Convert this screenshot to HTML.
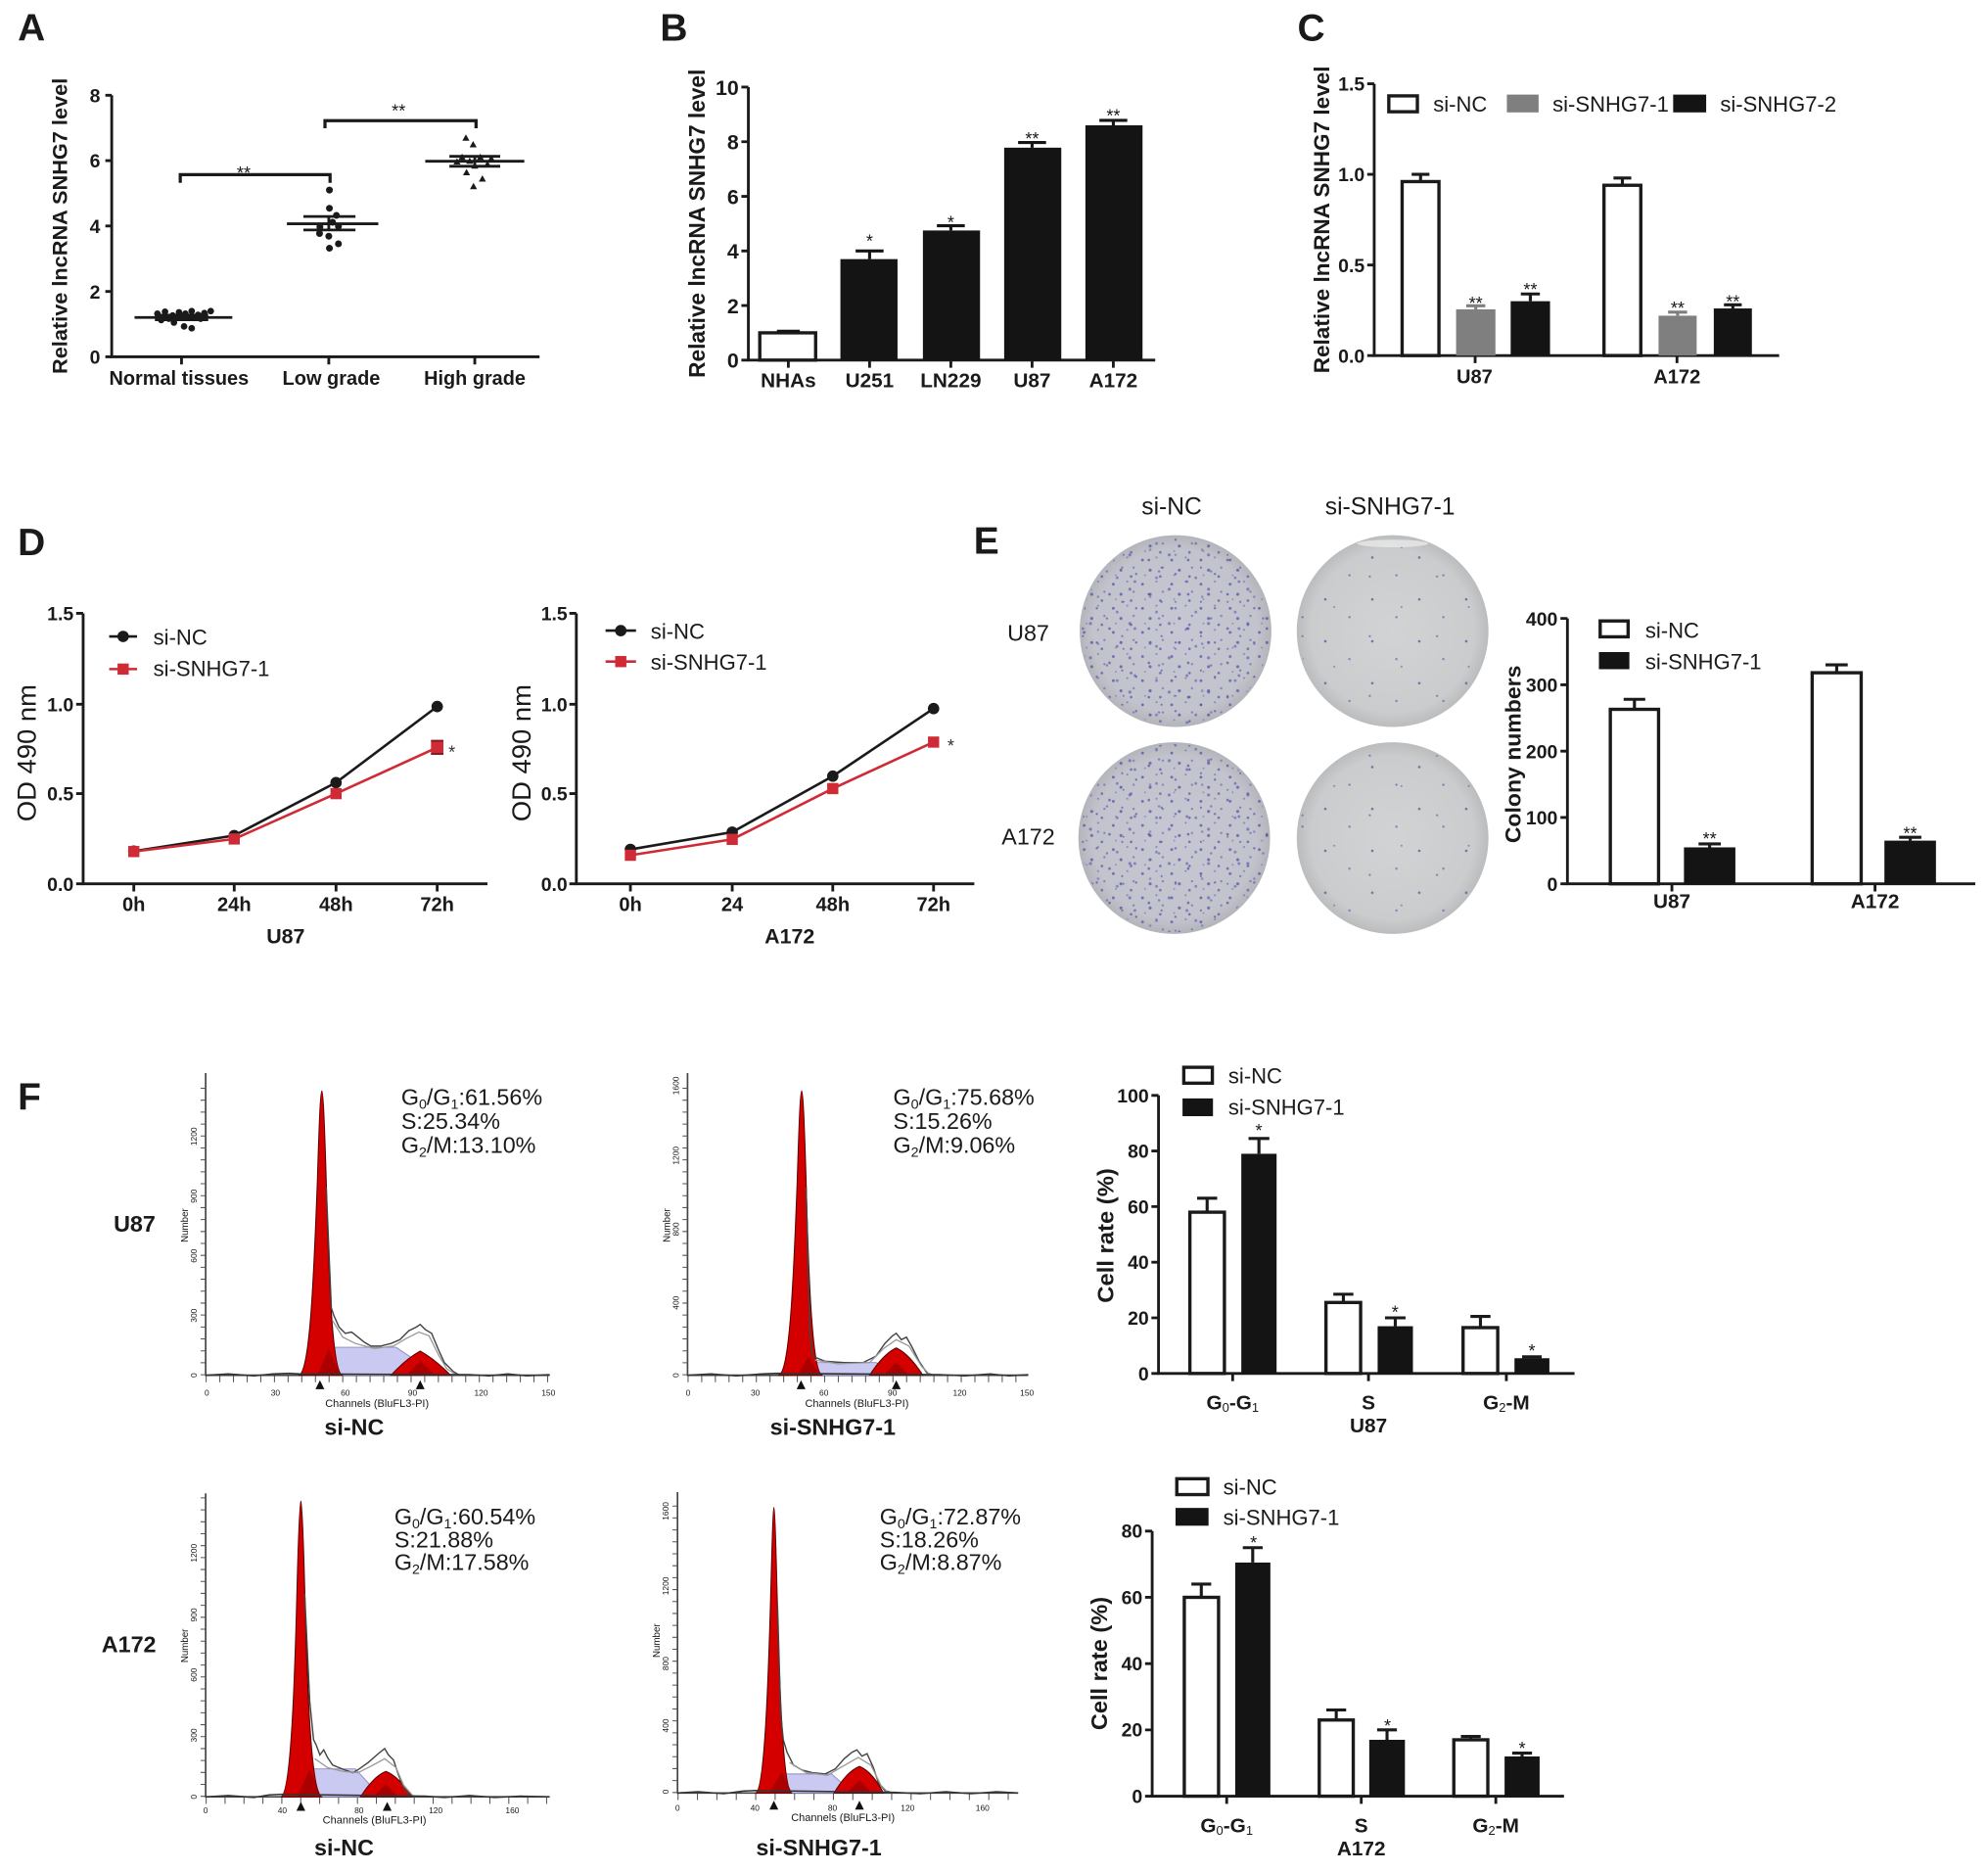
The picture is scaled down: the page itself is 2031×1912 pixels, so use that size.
<!DOCTYPE html>
<html><head><meta charset="utf-8">
<style>
html,body{margin:0;padding:0;background:#fff;}
svg{display:block;}
text{font-family:"Liberation Sans",Arial,sans-serif;fill:#1a1a1a;}
.b{font-weight:bold;}
.lg{fill:#333;}
.sm{fill:#888;font-size:6.5px;}
</style></head><body>
<svg width="2031" height="1912" viewBox="0 0 1566 1474.2" preserveAspectRatio="none" xmlns="http://www.w3.org/2000/svg">
<defs>
<pattern id="dA" width="23" height="19" patternUnits="userSpaceOnUse">
<circle cx="3" cy="4" r="1.1" fill="#4f4fa6" opacity=".75"/><circle cx="14" cy="2" r=".8" fill="#5a5aa8" opacity=".6"/><circle cx="9" cy="12" r="1.2" fill="#4a4aa0" opacity=".7"/><circle cx="19" cy="10" r=".9" fill="#5555aa" opacity=".6"/><circle cx="17" cy="17" r="1" fill="#50509f" opacity=".7"/><circle cx="5" cy="16" r=".7" fill="#6060b0" opacity=".6"/>
</pattern>
<pattern id="dB" width="31" height="27" patternUnits="userSpaceOnUse">
<circle cx="6" cy="9" r="1" fill="#4a4aa0" opacity=".7"/><circle cx="22" cy="5" r="1.2" fill="#5050a8" opacity=".6"/><circle cx="27" cy="20" r=".9" fill="#4a4aa0" opacity=".7"/><circle cx="12" cy="23" r="1.1" fill="#5a5ab0" opacity=".6"/><circle cx="16" cy="15" r=".8" fill="#4a4a9a" opacity=".7"/>
</pattern>
<pattern id="dD" width="41" height="37" patternUnits="userSpaceOnUse">
<circle cx="11" cy="6" r=".9" fill="#4a4aa0" opacity=".6"/><circle cx="33" cy="14" r="1.1" fill="#5050a8" opacity=".6"/><circle cx="24" cy="30" r=".8" fill="#4a4aa0" opacity=".6"/><circle cx="4" cy="26" r="1" fill="#5a5ab0" opacity=".5"/>
</pattern>
<pattern id="dC" width="37" height="33" patternUnits="userSpaceOnUse">
<circle cx="8" cy="10" r="1" fill="#5050a0" opacity=".75"/><circle cx="27" cy="24" r=".9" fill="#5a5aa8" opacity=".7"/>
</pattern>
<pattern id="dE" width="53" height="47" patternUnits="userSpaceOnUse">
<circle cx="19" cy="31" r=".9" fill="#5050a0" opacity=".6"/><circle cx="44" cy="8" r=".8" fill="#5a5aa8" opacity=".6"/>
</pattern>
<radialGradient id="gN" cx="50%" cy="50%" r="50%"><stop offset="0" stop-color="#c6c7d3"/><stop offset=".85" stop-color="#c2c3cc"/><stop offset="1" stop-color="#b4b5bb"/></radialGradient>
<radialGradient id="gS" cx="50%" cy="50%" r="50%"><stop offset="0" stop-color="#d2d3d4"/><stop offset=".85" stop-color="#cbcccd"/><stop offset="1" stop-color="#bbbcbe"/></radialGradient>
</defs>

<!-- ================= PANEL A ================= -->
<text x="14" y="32" class="b" font-size="30">A</text>
<g stroke="#1a1a1a" stroke-width="2.2" fill="none">
<path d="M88,75 V281 H425"/>
<path d="M83,75H88 M83,126.5H88 M83,178H88 M83,229.5H88 M83,281H88"/>
<path d="M143,281v6 M259,281v6 M374,281v6"/>
</g>
<g class="b" font-size="15" text-anchor="end">
<text x="79" y="80.5">8</text><text x="79" y="132">6</text><text x="79" y="183.5">4</text><text x="79" y="235">2</text><text x="79" y="286.5">0</text>
</g>
<g class="b" font-size="15.5" text-anchor="middle">
<text x="141" y="303" textLength="110" lengthAdjust="spacingAndGlyphs">Normal tissues</text>
<text x="261" y="303" textLength="77" lengthAdjust="spacingAndGlyphs">Low grade</text>
<text x="374" y="303" textLength="80" lengthAdjust="spacingAndGlyphs">High grade</text>
</g>
<text transform="translate(53,178) rotate(-90)" class="b" font-size="16.5" text-anchor="middle" textLength="233" lengthAdjust="spacingAndGlyphs">Relative lncRNA SNHG7 level</text>
<g fill="#1a1a1a">
<circle cx="124" cy="247" r="2.6"/><circle cx="130" cy="245.5" r="2.6"/><circle cx="136" cy="248.5" r="2.6"/><circle cx="141" cy="246" r="2.6"/><circle cx="146" cy="247" r="2.6"/><circle cx="151" cy="245" r="2.6"/><circle cx="156" cy="248" r="2.6"/><circle cx="161" cy="246.5" r="2.6"/><circle cx="166" cy="245" r="2.6"/><circle cx="133" cy="251" r="2.6"/><circle cx="148" cy="250" r="2.6"/><circle cx="158" cy="251" r="2.6"/><circle cx="137" cy="254" r="2.6"/><circle cx="145" cy="257" r="2.6"/><circle cx="151" cy="258.5" r="2.6"/><circle cx="127" cy="252" r="2.6"/>
<circle cx="259.5" cy="149.7" r="2.7"/><circle cx="259.5" cy="164" r="2.7"/><circle cx="265" cy="169.6" r="2.7"/><circle cx="252" cy="178.7" r="2.7"/><circle cx="266.6" cy="178.2" r="2.7"/><circle cx="259" cy="186" r="2.7"/><circle cx="266.6" cy="192" r="2.7"/><circle cx="259.5" cy="195.5" r="2.7"/><circle cx="251.7" cy="183.9" r="2.7"/><circle cx="262" cy="175" r="2.7"/>
<path d="M367,105.8l2.8,5h-5.6z M372.7,111l2.8,5h-5.6z M374,127.8l2.8,5h-5.6z M367.5,133l2.8,5h-5.6z M380,138l2.8,5h-5.6z M373,144l2.8,5h-5.6z M364,121l2.8,5h-5.6z M378.4,121l2.8,5h-5.6z M384,126.5l2.8,5h-5.6z M370,124l2.8,5h-5.6z M360,124.5l2.8,5h-5.6z M387,122l2.8,5h-5.6z"/>
</g>
<g stroke="#1a1a1a" stroke-width="2.2" fill="none">
<path d="M106,250H183 M122,248.2H164 M122,251.8H164"/>
<path d="M226,176.2H298 M239,170.5H280 M239,181.1H280 M259,170.5V181.1"/>
<path d="M335,127H413 M354,123.1H394 M354,130.9H394 M374,123.1V130.9"/>
<path d="M142,144V137.5H260V144" stroke-width="2.5"/>
<path d="M256,101V95H375V101" stroke-width="2.5"/>
</g>
<g font-size="14" text-anchor="middle" class="lg"><text x="192" y="141">**</text><text x="314" y="92">**</text></g>

<!-- ================= PANEL B ================= -->
<text x="520" y="32" class="b" font-size="30">B</text>
<g stroke="#1a1a1a" stroke-width="2.2" fill="none">
<path d="M589.5,68.6V283.6H910"/>
<path d="M584,68.6h5.5 M584,111.6h5.5 M584,154.6h5.5 M584,197.6h5.5 M584,240.6h5.5 M584,283.6h5.5"/>
<path d="M621,283.6v6 M685,283.6v6 M749,283.6v6 M813,283.6v6 M877,283.6v6"/>
</g>
<g class="b" font-size="16.5" text-anchor="end">
<text x="582" y="74.6">10</text><text x="582" y="117.6">8</text><text x="582" y="160.6">6</text><text x="582" y="203.6">4</text><text x="582" y="246.6">2</text><text x="582" y="289.6">0</text>
</g>
<rect x="598.5" y="262.1" width="44" height="21.5" fill="#fff" stroke="#1a1a1a" stroke-width="2.6"/>
<g fill="#141414">
<rect x="662" y="204.05" width="45" height="79.55"/>
<rect x="727" y="181.5" width="45" height="102.1"/>
<rect x="791" y="116.3" width="45" height="167.3"/>
<rect x="855" y="98.7" width="45" height="184.9"/>
</g>
<g stroke="#141414" stroke-width="2.4" fill="none">
<path d="M612,260.8H630"/>
<path d="M685,204V197.6 M674,197.6H696"/>
<path d="M749,181.5V177.8 M738,177.8H760"/>
<path d="M813,116.3V112.2 M802,112.2H824"/>
<path d="M877,98.7V94.8 M866,94.8H888"/>
</g>
<g font-size="14" text-anchor="middle" class="lg">
<text x="685" y="194.5">*</text><text x="749" y="180">*</text><text x="813" y="114">**</text><text x="877" y="96">**</text>
</g>
<g class="b" font-size="16" text-anchor="middle">
<text x="621" y="305">NHAs</text><text x="685" y="305">U251</text><text x="749" y="305">LN229</text><text x="813" y="305">U87</text><text x="877" y="305">A172</text>
</g>
<text transform="translate(555,176) rotate(-90)" class="b" font-size="17.5" text-anchor="middle" textLength="243" lengthAdjust="spacingAndGlyphs">Relative lncRNA SNHG7 level</text>

<!-- ================= PANEL C ================= -->
<text x="1022" y="32" class="b" font-size="30">C</text>
<g stroke="#1a1a1a" stroke-width="2.2" fill="none">
<path d="M1082.5,66V280H1401.5"/>
<path d="M1077,66h5.5 M1077,137.3h5.5 M1077,208.7h5.5 M1077,280h5.5"/>
<path d="M1162,280v6 M1321,280v6"/>
</g>
<g class="b" font-size="15" text-anchor="end">
<text x="1075" y="71.5">1.5</text><text x="1075" y="142.8">1.0</text><text x="1075" y="214.2">0.5</text><text x="1075" y="285.5">0.0</text>
</g>
<rect x="1104.5" y="143" width="29" height="137" fill="#fff" stroke="#1a1a1a" stroke-width="2.6"/>
<rect x="1263.5" y="145.9" width="29" height="134.1" fill="#fff" stroke="#1a1a1a" stroke-width="2.6"/>
<rect x="1147" y="243.6" width="31" height="36.4" fill="#7f7f7f"/>
<rect x="1306.5" y="248.6" width="30" height="31.4" fill="#7f7f7f"/>
<rect x="1190" y="237.2" width="31" height="42.8" fill="#141414"/>
<rect x="1350" y="242.9" width="30" height="37.1" fill="#141414"/>
<g stroke="#1a1a1a" stroke-width="2.4" fill="none">
<path d="M1119,143V137.3 M1112,137.3H1126"/>
<path d="M1278,145.9V140.2 M1271,140.2H1285"/>
<path d="M1205.5,237.2V231.5 M1198,231.5H1213"/>
<path d="M1365,242.9V240 M1358,240H1372"/>
</g>
<g stroke="#7f7f7f" stroke-width="2.4" fill="none">
<path d="M1162.5,243.6V240.8 M1155,240.8H1170"/>
<path d="M1321.5,248.6V245.8 M1314,245.8H1329"/>
</g>
<g font-size="14" text-anchor="middle" class="lg">
<text x="1162.5" y="243.7">**</text><text x="1205.5" y="232.8">**</text><text x="1321.5" y="247.6">**</text><text x="1365" y="242.4">**</text>
</g>
<g class="b" font-size="15.5" text-anchor="middle"><text x="1161.5" y="302">U87</text><text x="1321" y="302">A172</text></g>
<text transform="translate(1047,173) rotate(-90)" class="b" font-size="17" text-anchor="middle" textLength="242" lengthAdjust="spacingAndGlyphs">Relative lncRNA SNHG7 level</text>
<rect x="1094" y="75.5" width="22.5" height="12.5" fill="#fff" stroke="#1a1a1a" stroke-width="2.6"/>
<rect x="1187" y="74.5" width="25" height="14" fill="#7f7f7f"/>
<rect x="1318" y="74.5" width="26" height="14" fill="#141414"/>
<g font-size="17" class="lg"><text x="1129" y="88">si-NC</text><text x="1223" y="88">si-SNHG7-1</text><text x="1355" y="88">si-SNHG7-2</text></g>

<!-- ================= PANEL D ================= -->
<text x="14" y="437" class="b" font-size="30">D</text>
<g stroke="#1a1a1a" stroke-width="2.2" fill="none">
<path d="M65.5,483V696H384"/>
<path d="M60,483h5.5 M60,554.6h5.5 M60,625h5.5 M60,696h5.5"/>
<path d="M105.4,696v6 M184.5,696v6 M264.7,696v6 M344.4,696v6"/>
</g>
<g class="b" font-size="15" text-anchor="end">
<text x="58" y="488.5">1.5</text><text x="58" y="560">1.0</text><text x="58" y="630.5">0.5</text><text x="58" y="701.5">0.0</text>
</g>
<g class="b" font-size="15.5" text-anchor="middle">
<text x="105.4" y="717.6">0h</text><text x="184.5" y="717.6">24h</text><text x="264.7" y="717.6">48h</text><text x="344.4" y="717.6">72h</text>
<text x="225" y="743" font-size="16.5">U87</text>
</g>
<text transform="translate(28,593) rotate(-90)" font-size="21" text-anchor="middle" textLength="108" lengthAdjust="spacingAndGlyphs" fill="#222">OD 490 nm</text>
<polyline points="105.4,670.3 184.5,658 264.7,616.3 344.4,556.4" fill="none" stroke="#1a1a1a" stroke-width="2"/>
<g fill="#1a1a1a"><circle cx="105.4" cy="670.3" r="4.5"/><circle cx="184.5" cy="658" r="4.5"/><circle cx="264.7" cy="616.3" r="4.5"/><circle cx="344.4" cy="556.4" r="4.5"/></g>
<polyline points="105.4,670.6 184.5,660.7 264.7,625 344.4,588.6" fill="none" stroke="#d02a36" stroke-width="2"/>
<g fill="#d02a36"><rect x="101" y="666.2" width="8.8" height="8.8"/><rect x="180.1" y="656.3" width="8.8" height="8.8"/><rect x="260.3" y="620.6" width="8.8" height="8.8"/><rect x="339.5" y="583.4" width="9.8" height="10.3"/></g>
<path d="M339.5,583.4h9.8 M339.5,593.7h9.8" stroke="#8a1a22" stroke-width="1.5"/>
<text x="356" y="597" font-size="14" text-anchor="middle" class="lg">*</text>
<path d="M86,501.2H108" stroke="#1a1a1a" stroke-width="2"/><circle cx="97" cy="501.2" r="4.5" fill="#1a1a1a"/>
<path d="M86,526.9H108" stroke="#d02a36" stroke-width="2"/><rect x="92.6" y="522.5" width="8.8" height="8.8" fill="#d02a36"/>
<g font-size="17" class="lg"><text x="120.8" y="507.6">si-NC</text><text x="120.8" y="532.5">si-SNHG7-1</text></g>
<g stroke="#1a1a1a" stroke-width="2.2" fill="none">
<path d="M454,483V696H767.5"/>
<path d="M448.5,483h5.5 M448.5,554.6h5.5 M448.5,625h5.5 M448.5,696h5.5"/>
<path d="M496.6,696v6 M576.8,696v6 M656,696v6 M735.4,696v6"/>
</g>
<g class="b" font-size="15" text-anchor="end">
<text x="447" y="488.5">1.5</text><text x="447" y="560">1.0</text><text x="447" y="630.5">0.5</text><text x="447" y="701.5">0.0</text>
</g>
<g class="b" font-size="15.5" text-anchor="middle">
<text x="496.6" y="717.6">0h</text><text x="576.8" y="717.6">24</text><text x="656" y="717.6">48h</text><text x="735.4" y="717.6">72h</text>
<text x="622" y="743" font-size="16.5">A172</text>
</g>
<text transform="translate(418,593) rotate(-90)" font-size="21" text-anchor="middle" textLength="108" lengthAdjust="spacingAndGlyphs" fill="#222">OD 490 nm</text>
<polyline points="496.6,668.9 576.8,655.3 656,611.2 735.4,558" fill="none" stroke="#1a1a1a" stroke-width="2"/>
<g fill="#1a1a1a"><circle cx="496.6" cy="668.9" r="4.5"/><circle cx="576.8" cy="655.3" r="4.5"/><circle cx="656" cy="611.2" r="4.5"/><circle cx="735.4" cy="558" r="4.5"/></g>
<polyline points="496.6,673.5 576.8,661 656,621 735.4,584.4" fill="none" stroke="#d02a36" stroke-width="2"/>
<g fill="#d02a36"><rect x="492.2" y="669.1" width="8.8" height="8.8"/><rect x="572.4" y="656.6" width="8.8" height="8.8"/><rect x="651.6" y="616.6" width="8.8" height="8.8"/><rect x="731" y="580" width="8.8" height="8.8"/></g>
<text x="749" y="592" font-size="14" text-anchor="middle" class="lg">*</text>
<path d="M477,496.6H501" stroke="#1a1a1a" stroke-width="2"/><circle cx="489" cy="496.6" r="4.5" fill="#1a1a1a"/>
<path d="M477,521H501" stroke="#d02a36" stroke-width="2"/><rect x="484.6" y="516.6" width="8.8" height="8.8" fill="#d02a36"/>
<g font-size="17" class="lg"><text x="512.6" y="503">si-NC</text><text x="512.6" y="527.5">si-SNHG7-1</text></g>

<!-- ================= PANEL E ================= -->
<text x="767" y="436" class="b" font-size="30">E</text>
<g font-size="19" text-anchor="middle" fill="#222">
<text x="923" y="405">si-NC</text><text x="1095" y="405">si-SNHG7-1</text>
</g>
<g font-size="18" text-anchor="middle"><text x="810" y="504.5">U87</text><text x="810" y="665">A172</text></g>
<circle cx="926" cy="497" r="75.5" fill="url(#gN)"/>
<circle cx="926" cy="497" r="74" fill="url(#dA)"/>
<circle cx="926" cy="497" r="74" fill="url(#dB)"/>
<circle cx="926" cy="497" r="74" fill="url(#dD)"/>
<circle cx="1097" cy="497" r="75.5" fill="url(#gS)"/>
<circle cx="1097" cy="497" r="74" fill="url(#dC)"/>
<circle cx="1097" cy="497" r="74" fill="url(#dE)"/>
<ellipse cx="1097" cy="428" rx="28" ry="3" fill="#eeeeee" opacity=".7"/>
<circle cx="925" cy="660" r="75.5" fill="url(#gN)"/>
<circle cx="925" cy="660" r="74" fill="url(#dA)"/>
<circle cx="925" cy="660" r="74" fill="url(#dB)"/>
<circle cx="925" cy="660" r="74" fill="url(#dD)"/>
<circle cx="1097" cy="660" r="75.5" fill="url(#gS)"/>
<circle cx="1097" cy="660" r="74" fill="url(#dC)"/>
<circle cx="1097" cy="660" r="74" fill="url(#dE)"/>
<g stroke="#1a1a1a" stroke-width="2.2" fill="none">
<path d="M1234.7,487V696H1556"/>
<path d="M1229.2,487h5.5 M1229.2,539.25h5.5 M1229.2,591.5h5.5 M1229.2,643.75h5.5 M1229.2,696h5.5"/>
<path d="M1317,696v6 M1477,696v6"/>
</g>
<g class="b" font-size="15" text-anchor="end">
<text x="1227" y="492.5">400</text><text x="1227" y="544.75">300</text><text x="1227" y="597">200</text><text x="1227" y="649.25">100</text><text x="1227" y="701.5">0</text>
</g>
<rect x="1268.5" y="558.6" width="38" height="137.4" fill="#fff" stroke="#1a1a1a" stroke-width="2.6"/>
<rect x="1427.5" y="529.8" width="38.6" height="166.2" fill="#fff" stroke="#1a1a1a" stroke-width="2.6"/>
<rect x="1326.5" y="667.3" width="40.5" height="28.7" fill="#141414"/>
<rect x="1484.4" y="662" width="40.6" height="34" fill="#141414"/>
<g stroke="#1a1a1a" stroke-width="2.4" fill="none">
<path d="M1287.5,558.6V550.7 M1279,550.7H1296"/>
<path d="M1446.8,529.8V523.6 M1438,523.6H1455.5"/>
<path d="M1346.7,667.3V664.6 M1338,664.6H1355.5"/>
<path d="M1504.7,662V659.4 M1496,659.4H1513.5"/>
</g>
<g font-size="14" text-anchor="middle" class="lg"><text x="1346.7" y="665.5">**</text><text x="1504.7" y="661">**</text></g>
<g class="b" font-size="16" text-anchor="middle"><text x="1317" y="715">U87</text><text x="1477" y="715">A172</text></g>
<text transform="translate(1198,594) rotate(-90)" class="b" font-size="17" text-anchor="middle" textLength="140" lengthAdjust="spacingAndGlyphs">Colony numbers</text>
<rect x="1260.5" y="489" width="22" height="12.5" fill="#fff" stroke="#1a1a1a" stroke-width="2.6"/>
<rect x="1259.5" y="513.5" width="24" height="13.5" fill="#141414"/>
<g font-size="17" class="lg"><text x="1296" y="502.5">si-NC</text><text x="1296" y="527">si-SNHG7-1</text></g>

<!-- ================= PANEL F ================= -->
<text x="14" y="874" class="b" font-size="30">F</text>
<text x="106" y="970" class="b" font-size="18" text-anchor="middle">U87</text>
<text x="101.5" y="1301" class="b" font-size="18" text-anchor="middle">A172</text>

<g>
<path d="M162,845V1083H433" stroke="#444" stroke-width="1.3" fill="none"/>
<line x1="160" y1="1083" x2="160" y2="848" stroke="#555" stroke-width="4" stroke-dasharray="0.8 8.6"/>
<line x1="162" y1="1086" x2="433" y2="1086" stroke="#555" stroke-width="5" stroke-dasharray="0.8 9.96"/>
<g class="sm" text-anchor="middle">
<text transform="translate(155,1083) rotate(-90)">0</text><text transform="translate(155,1036) rotate(-90)">300</text><text transform="translate(155,989) rotate(-90)">600</text><text transform="translate(155,942) rotate(-90)">900</text><text transform="translate(155,895) rotate(-90)">1200</text>
<text transform="translate(148,965) rotate(-90)" font-size="7.5" fill="#666">Number</text>
<text x="163" y="1099">0</text><text x="217" y="1099">30</text><text x="272" y="1099">60</text><text x="325" y="1099">90</text><text x="379" y="1099">120</text><text x="432" y="1099">150</text>
<text x="297" y="1108" font-size="8.5" fill="#555">Channels (BluFL3-PI)</text>
</g>
<polygon points="243,1083 258,1061 312,1061 345,1083" fill="#c9c9f2" stroke="#8a8ac0" stroke-width=".7"/>
<path d="M308,1083 Q320,1070 331,1064 Q342,1070 355,1083 Z" fill="#d40000" stroke="#5a0000" stroke-width=".8"/>
<path d="M320,1083 L331,1072 L343,1083 Z" fill="#8a0000" opacity=".6"/>
<path d="M235,1083 C244,1083 247,1010 250,930 C251.5,880 252.5,859 253.5,859 C254.5,859 255.5,880 257,930 C259,1010 262,1083 270,1083 Z" fill="#d40000" stroke="#5a0000" stroke-width=".8"/>
<path d="M250,1083 L259,1062 L268,1083 Z" fill="#8a0000" opacity=".55"/>
<polyline points="257,935 261,1030 263,1036 267,1045 272,1050 277,1049 282,1053 287,1057 292,1060 300,1060 308,1058 315,1055 322,1048 328,1045 331,1043 335,1047 340,1050 345,1062 350,1073 357,1080 362,1083" fill="none" stroke="#444" stroke-width="1.1"/>
<polyline points="262,1040 270,1053 280,1058 295,1062 310,1060 320,1054 330,1049 338,1052 346,1068 352,1078 360,1083" fill="none" stroke="#999" stroke-width="1"/>
<polyline points="162,1083 180,1082 200,1083.5 215,1082 228,1081.5 236,1082 370,1082.5 385,1083.5 400,1082 415,1083.5 433,1082.5" fill="none" stroke="#333" stroke-width="1.2"/>
<path d="M248.5,1094h7l-3.5,-7z M327.5,1094h7l-3.5,-7z" fill="#111"/>
<g font-size="18" fill="#222">
<text x="316" y="870">G<tspan font-size="11" dy="3">0</tspan><tspan dy="-3">/G</tspan><tspan font-size="11" dy="3">1</tspan><tspan dy="-3">:61.56%</tspan></text>
<text x="316" y="889">S:25.34%</text>
<text x="316" y="908">G<tspan font-size="11" dy="3">2</tspan><tspan dy="-3">/M:13.10%</tspan></text>
</g>
<text x="279" y="1130" class="b" font-size="18" text-anchor="middle">si-NC</text>
</g>

<g>
<path d="M541.6,845V1083H810" stroke="#444" stroke-width="1.3" fill="none"/>
<line x1="539.6" y1="1083" x2="539.6" y2="848" stroke="#555" stroke-width="4" stroke-dasharray="0.8 8.6"/>
<line x1="541.6" y1="1086" x2="810" y2="1086" stroke="#555" stroke-width="5" stroke-dasharray="0.8 9.96"/>
<g class="sm" text-anchor="middle">
<text transform="translate(534.6,1083) rotate(-90)">0</text><text transform="translate(534.6,1026) rotate(-90)">400</text><text transform="translate(534.6,968) rotate(-90)">800</text><text transform="translate(534.6,910) rotate(-90)">1200</text><text transform="translate(534.6,855) rotate(-90)">1600</text>
<text transform="translate(527.6,965) rotate(-90)" font-size="7.5" fill="#666">Number</text>
<text x="542" y="1099">0</text><text x="595" y="1099">30</text><text x="649" y="1099">60</text><text x="703" y="1099">90</text><text x="756" y="1099">120</text><text x="809" y="1099">150</text>
<text x="675" y="1108" font-size="8.5" fill="#555">Channels (BluFL3-PI)</text>
</g>
<polygon points="626,1083 640,1073 690,1073 715,1083" fill="#c9c9f2" stroke="#8a8ac0" stroke-width=".7"/>
<path d="M685,1083 Q696,1066 706,1061.5 Q716,1066 727,1083 Z" fill="#d40000" stroke="#5a0000" stroke-width=".8"/>
<path d="M696,1083 L706,1073 L716,1083 Z" fill="#8a0000" opacity=".6"/>
<path d="M613,1083 C622,1083 625,1010 628,930 C629.5,880 630.5,859 631.5,859 C632.5,859 633.5,880 635,930 C637,1010 640,1083 648,1083 Z" fill="#d40000" stroke="#5a0000" stroke-width=".8"/>
<path d="M628,1083 L637,1068 L646,1083 Z" fill="#8a0000" opacity=".55"/>
<polyline points="635,935 638,1050 640,1068 650,1072 665,1073 680,1073 690,1068 697,1058 703,1052 706,1050 710,1055 714,1053 718,1060 724,1072 730,1081 735,1083" fill="none" stroke="#444" stroke-width="1.1"/>
<polyline points="642,1071 660,1074 685,1073 696,1062 706,1055 716,1060 726,1076 733,1083" fill="none" stroke="#999" stroke-width="1"/>
<polyline points="541.6,1083 560,1082 580,1083.5 600,1082 612,1081.5 740,1082.5 760,1083.5 780,1082 795,1083.5 810,1082.5" fill="none" stroke="#333" stroke-width="1.2"/>
<path d="M627.5,1094h7l-3.5,-7z M702.5,1094h7l-3.5,-7z" fill="#111"/>
<g font-size="18" fill="#222">
<text x="703.6" y="870">G<tspan font-size="11" dy="3">0</tspan><tspan dy="-3">/G</tspan><tspan font-size="11" dy="3">1</tspan><tspan dy="-3">:75.68%</tspan></text>
<text x="703.6" y="889">S:15.26%</text>
<text x="703.6" y="908">G<tspan font-size="11" dy="3">2</tspan><tspan dy="-3">/M:9.06%</tspan></text>
</g>
<text x="656" y="1130" class="b" font-size="18" text-anchor="middle">si-SNHG7-1</text>
</g>

<g>
<path d="M162,1176V1415H433" stroke="#444" stroke-width="1.3" fill="none"/>
<line x1="160" y1="1415" x2="160" y2="1178" stroke="#555" stroke-width="4" stroke-dasharray="0.8 8.6"/>
<line x1="162" y1="1418" x2="433" y2="1418" stroke="#555" stroke-width="5" stroke-dasharray="0.8 14.1"/>
<g class="sm" text-anchor="middle">
<text transform="translate(155,1415) rotate(-90)">0</text><text transform="translate(155,1366.6) rotate(-90)">300</text><text transform="translate(155,1319) rotate(-90)">600</text><text transform="translate(155,1271.8) rotate(-90)">900</text><text transform="translate(155,1223) rotate(-90)">1200</text>
<text transform="translate(148,1296) rotate(-90)" font-size="7.5" fill="#666">Number</text>
<text x="162" y="1428">0</text><text x="222.4" y="1428">40</text><text x="282.8" y="1428">80</text><text x="343.2" y="1428">120</text><text x="403.6" y="1428">160</text>
<text x="295" y="1436" font-size="8.5" fill="#555">Channels (BluFL3-PI)</text>
</g>
<polygon points="232,1415 246,1393 280,1393 300,1415" fill="#c9c9f2" stroke="#8a8ac0" stroke-width=".7"/>
<path d="M284,1415 Q294,1399 304,1395 Q314,1399 325,1415 Z" fill="#d40000" stroke="#5a0000" stroke-width=".8"/>
<path d="M294,1415 L304,1405 L314,1415 Z" fill="#8a0000" opacity=".6"/>
<path d="M221,1415 C229,1415 232,1330 234,1250 C235.3,1200 236.3,1182 237,1182 C237.7,1182 238.7,1200 240,1250 C242,1330 245,1415 254,1415 Z" fill="#d40000" stroke="#5a0000" stroke-width=".8"/>
<path d="M234,1415 L244,1393 L253,1415 Z" fill="#8a0000" opacity=".55"/>
<polyline points="240,1255 244,1340 247,1370 249,1374 252,1382 255,1378 258,1384 262,1390 267,1392 272,1394 278,1396 283,1393 290,1388 298,1381 303,1377 306,1382 310,1386 314,1398 318,1408 323,1414 330,1415" fill="none" stroke="#444" stroke-width="1.1"/>
<polyline points="248,1385 258,1392 270,1395 282,1396 292,1391 303,1385 312,1392 318,1406 326,1415" fill="none" stroke="#999" stroke-width="1"/>
<polyline points="162,1415 180,1414 200,1415.5 212,1413.5 222,1413 335,1414.5 350,1415.5 370,1414 390,1415.5 410,1414.5 433,1415" fill="none" stroke="#333" stroke-width="1.2"/>
<path d="M233.5,1426h7l-3.5,-7z M301.5,1426h7l-3.5,-7z" fill="#111"/>
<g font-size="18" fill="#222">
<text x="310.6" y="1200.5">G<tspan font-size="11" dy="3">0</tspan><tspan dy="-3">/G</tspan><tspan font-size="11" dy="3">1</tspan><tspan dy="-3">:60.54%</tspan></text>
<text x="310.6" y="1218.5">S:21.88%</text>
<text x="310.6" y="1236.5">G<tspan font-size="11" dy="3">2</tspan><tspan dy="-3">/M:17.58%</tspan></text>
</g>
<text x="271" y="1461" class="b" font-size="18" text-anchor="middle">si-NC</text>
</g>

<g>
<path d="M533.7,1175V1412H802" stroke="#444" stroke-width="1.3" fill="none"/>
<line x1="531.7" y1="1412" x2="531.7" y2="1178" stroke="#555" stroke-width="4" stroke-dasharray="0.8 8.6"/>
<line x1="533.7" y1="1415" x2="802" y2="1415" stroke="#555" stroke-width="5" stroke-dasharray="0.8 14.5"/>
<g class="sm" text-anchor="middle">
<text transform="translate(526.7,1411) rotate(-90)">0</text><text transform="translate(526.7,1359) rotate(-90)">400</text><text transform="translate(526.7,1310) rotate(-90)">800</text><text transform="translate(526.7,1249) rotate(-90)">1200</text><text transform="translate(526.7,1190) rotate(-90)">1600</text>
<text transform="translate(519.7,1292) rotate(-90)" font-size="7.5" fill="#666">Number</text>
<text x="533.7" y="1426">0</text><text x="594.7" y="1426">40</text><text x="655.8" y="1426">80</text><text x="715" y="1426">120</text><text x="774" y="1426">160</text>
<text x="664" y="1434" font-size="8.5" fill="#555">Channels (BluFL3-PI)</text>
</g>
<polygon points="606,1412 617,1397 655,1397 672,1412" fill="#c9c9f2" stroke="#8a8ac0" stroke-width=".7"/>
<path d="M657,1412 Q667,1395 677,1391 Q687,1395 696,1412 Z" fill="#d40000" stroke="#5a0000" stroke-width=".8"/>
<path d="M667,1412 L677,1402 L687,1412 Z" fill="#8a0000" opacity=".6"/>
<path d="M595,1412 C602,1412 605,1330 607,1260 C608.3,1210 609,1187 609.6,1187 C610.3,1187 611,1210 612.3,1260 C614,1330 617,1412 624,1412 Z" fill="#d40000" stroke="#5a0000" stroke-width=".8"/>
<path d="M606,1412 L616,1395 L624,1412 Z" fill="#8a0000" opacity=".55"/>
<polyline points="612.5,1265 615,1350 617,1370 620,1380 625,1390 632,1394 640,1396 650,1397 658,1393 665,1385 671,1380 675,1378 679,1383 683,1381 688,1392 692,1404 697,1410 703,1412" fill="none" stroke="#444" stroke-width="1.1"/>
<polyline points="622,1388 635,1396 652,1398 662,1392 676,1384 686,1390 694,1406 700,1412" fill="none" stroke="#999" stroke-width="1"/>
<polyline points="533.7,1412 550,1411 570,1412.5 585,1410.5 595,1410 705,1411.5 725,1412.5 745,1411 765,1412.5 785,1411 802,1412" fill="none" stroke="#333" stroke-width="1.2"/>
<path d="M606.1,1425h7l-3.5,-7z M673.5,1425h7l-3.5,-7z" fill="#111"/>
<g font-size="18" fill="#222">
<text x="693" y="1200.5">G<tspan font-size="11" dy="3">0</tspan><tspan dy="-3">/G</tspan><tspan font-size="11" dy="3">1</tspan><tspan dy="-3">:72.87%</tspan></text>
<text x="693" y="1218.5">S:18.26%</text>
<text x="693" y="1236.5">G<tspan font-size="11" dy="3">2</tspan><tspan dy="-3">/M:8.87%</tspan></text>
</g>
<text x="645" y="1461" class="b" font-size="18" text-anchor="middle">si-SNHG7-1</text>
</g>

<g stroke="#1a1a1a" stroke-width="2.2" fill="none">
<path d="M912.6,862.6V1081.6H1240.3"/>
<path d="M907,862.6h5.6 M907,906.4h5.6 M907,950.2h5.6 M907,994h5.6 M907,1037.8h5.6 M907,1081.6h5.6"/>
<path d="M971,1081.6v6 M1078,1081.6v6 M1186.6,1081.6v6"/>
</g>
<g class="b" font-size="15" text-anchor="end">
<text x="905" y="868">100</text><text x="905" y="911.8">80</text><text x="905" y="955.6">60</text><text x="905" y="999.4">40</text><text x="905" y="1043.2">20</text><text x="905" y="1087">0</text>
</g>
<rect x="937.3" y="954.6" width="27.2" height="127" fill="#fff" stroke="#1a1a1a" stroke-width="2.6"/>
<rect x="1044.5" y="1025.7" width="27.3" height="55.9" fill="#fff" stroke="#1a1a1a" stroke-width="2.6"/>
<rect x="1152.5" y="1045.5" width="27.3" height="36.1" fill="#fff" stroke="#1a1a1a" stroke-width="2.6"/>
<rect x="977.8" y="908.6" width="27.8" height="173" fill="#141414"/>
<rect x="1085.2" y="1044.4" width="27.8" height="37.2" fill="#141414"/>
<rect x="1193" y="1069.6" width="27.5" height="12" fill="#141414"/>
<g stroke="#1a1a1a" stroke-width="2.4" fill="none">
<path d="M950.9,954.6V943.6 M943,943.6H958.8"/>
<path d="M991.7,908.6V896.6 M983.5,896.6H999.9"/>
<path d="M1058.2,1025.7V1019.2 M1050.3,1019.2H1066.1"/>
<path d="M1099.1,1044.4V1037.8 M1091,1037.8H1107.2"/>
<path d="M1166.2,1045.5V1036.7 M1158.3,1036.7H1174.1"/>
<path d="M1206.7,1069.6V1068.5 M1199,1068.5H1214.4"/>
</g>
<g font-size="14" text-anchor="middle" class="lg"><text x="991.6" y="895">*</text><text x="1099" y="1038">*</text><text x="1206.7" y="1068.8">*</text></g>
<g class="b" font-size="16" text-anchor="middle">
<text x="971" y="1110">G<tspan font-size="10" dy="2" font-weight="normal">0</tspan><tspan dy="-2">-G</tspan><tspan font-size="10" dy="2" font-weight="normal">1</tspan></text>
<text x="1078" y="1110">S</text>
<text x="1186.6" y="1110">G<tspan font-size="10" dy="2" font-weight="normal">2</tspan><tspan dy="-2">-M</tspan></text>
<text x="1078" y="1128">U87</text>
</g>
<text transform="translate(877,973) rotate(-90)" class="b" font-size="18" text-anchor="middle" textLength="106" lengthAdjust="spacingAndGlyphs">Cell rate (%)</text>
<rect x="932.5" y="840.5" width="22.5" height="12.5" fill="#fff" stroke="#1a1a1a" stroke-width="2.6"/>
<rect x="931.5" y="865" width="24" height="14" fill="#141414"/>
<g font-size="17" class="lg"><text x="967.6" y="853">si-NC</text><text x="967.6" y="878">si-SNHG7-1</text></g>

<g stroke="#1a1a1a" stroke-width="2.2" fill="none">
<path d="M907.6,1205.7V1414.5H1232"/>
<path d="M902,1205.7h5.6 M902,1257.9h5.6 M902,1310.1h5.6 M902,1362.3h5.6 M902,1414.5h5.6"/>
<path d="M966.3,1414.5v6 M1072.3,1414.5v6 M1178.3,1414.5v6"/>
</g>
<g class="b" font-size="15" text-anchor="end">
<text x="900" y="1211">80</text><text x="900" y="1263.2">60</text><text x="900" y="1315.4">40</text><text x="900" y="1367.6">20</text><text x="900" y="1419.8">0</text>
</g>
<rect x="932.9" y="1257.9" width="27" height="156.6" fill="#fff" stroke="#1a1a1a" stroke-width="2.6"/>
<rect x="1039.2" y="1354.5" width="26.8" height="60" fill="#fff" stroke="#1a1a1a" stroke-width="2.6"/>
<rect x="1145.2" y="1370.1" width="26.8" height="44.4" fill="#fff" stroke="#1a1a1a" stroke-width="2.6"/>
<rect x="973" y="1230.5" width="27.7" height="184" fill="#141414"/>
<rect x="1078.6" y="1370.1" width="28.1" height="44.4" fill="#141414"/>
<rect x="1185.2" y="1383.2" width="27.6" height="31.3" fill="#141414"/>
<g stroke="#1a1a1a" stroke-width="2.4" fill="none">
<path d="M946.3,1257.9V1247.5 M938.5,1247.5H954.1"/>
<path d="M986.8,1230.5V1218.8 M979,1218.8H994.6"/>
<path d="M1052.6,1354.5V1346.6 M1044.8,1346.6H1060.4"/>
<path d="M1092.6,1370.1V1362.3 M1084.8,1362.3H1100.4"/>
<path d="M1158.6,1370.1V1367.5 M1150.8,1367.5H1166.4"/>
<path d="M1199,1383.2V1380.6 M1191.2,1380.6H1206.8"/>
</g>
<g font-size="14" text-anchor="middle" class="lg"><text x="987.5" y="1219.6">*</text><text x="1093" y="1363.8">*</text><text x="1199" y="1381.7">*</text></g>
<g class="b" font-size="16" text-anchor="middle">
<text x="966.3" y="1443">G<tspan font-size="10" dy="2" font-weight="normal">0</tspan><tspan dy="-2">-G</tspan><tspan font-size="10" dy="2" font-weight="normal">1</tspan></text>
<text x="1072.3" y="1443">S</text>
<text x="1178.3" y="1443">G<tspan font-size="10" dy="2" font-weight="normal">2</tspan><tspan dy="-2">-M</tspan></text>
<text x="1072.3" y="1461">A172</text>
</g>
<text transform="translate(872,1310) rotate(-90)" class="b" font-size="18" text-anchor="middle" textLength="105" lengthAdjust="spacingAndGlyphs">Cell rate (%)</text>
<rect x="927" y="1164.5" width="24.5" height="12.5" fill="#fff" stroke="#1a1a1a" stroke-width="2.6"/>
<rect x="926" y="1187.5" width="26" height="14" fill="#141414"/>
<g font-size="17" class="lg"><text x="963.5" y="1177">si-NC</text><text x="963.5" y="1201">si-SNHG7-1</text></g>
</svg>
</body></html>
